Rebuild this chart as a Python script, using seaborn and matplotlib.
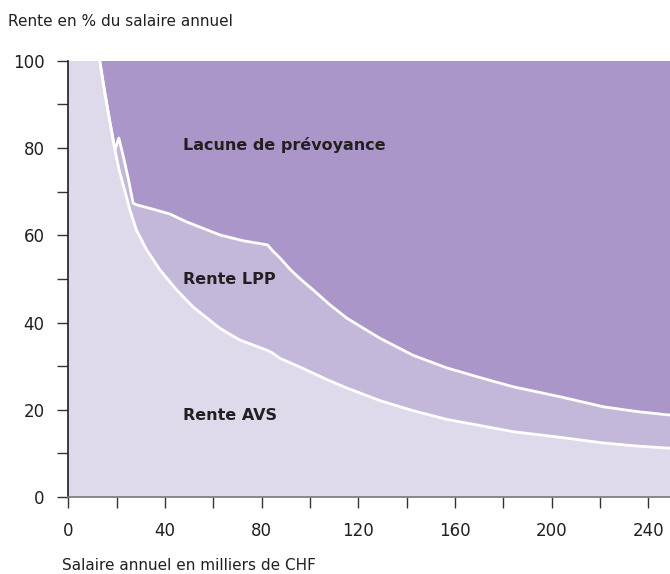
import numpy as np
import pandas as pd
import matplotlib
matplotlib.use("Agg")
import matplotlib.pyplot as plt
import seaborn as sns

# salaire annuel (milliers CHF) et rente AVS en % du salaire
avs_x = [0, 8, 13, 15, 17.2, 19.3, 21, 23.4, 25.5, 28.2, 32.4, 37.9, 44.8, 51.6, 62.7, 71, 82, 84,
         87.6, 95.9, 101.3, 108, 115.3, 129, 142.7, 156.7, 170.4, 184, 203.5, 221.4, 235.4, 249, 255]
avs_y = [400, 160, 100, 93, 86, 79.6, 75, 70.2, 65.8, 61.2, 56.7, 52.1, 47.5, 43.6, 38.7, 36, 33.7, 33.2,
         31.8, 29.8, 28.4, 26.7, 25.0, 22.1, 19.8, 17.8, 16.4, 15.0, 13.7, 12.4, 11.7, 11.2, 11]

# rente totale AVS + LPP
tot_x = [0, 8, 13, 15, 17.2, 19.3, 20.9, 23, 25, 26.8, 28.2, 35, 42, 48.9, 62.7, 72, 82.5, 84.5,
         87.6, 91.8, 96, 101.3, 108, 115.3, 129, 142.7, 156.7, 170.4, 184, 203.5, 221.4, 235.4, 249, 255]
tot_y = [400, 160, 100, 93, 86, 79.6, 82.3, 77.5, 72.5, 67.4, 67, 66, 64.9, 63.1, 60.1, 58.8, 57.8, 56.5,
         54.8, 52.2, 50, 47.5, 44.2, 41, 36.4, 32.5, 29.6, 27.4, 25.3, 23.0, 20.7, 19.6, 18.8, 18.6]

labels = ["Lacune de prévoyance", "Rente LPP", "Rente AVS"]
label_x = [47.5, 47.5, 47.5]
label_y = [80.7, 49.8, 18.6]

c_gap = "#aa96c8"
c_lpp = "#c3b8da"
c_avs = "#dedaec"

sns.set_style("ticks")
plt.rcParams["font.family"] = ["DejaVu Sans"]

fig = plt.figure(figsize=(6.7, 5.74), dpi=100)
ax = fig.add_axes([0.102, 0.134, 0.898, 0.76])
ax.set_facecolor(c_gap)

avs = pd.DataFrame({"x": avs_x, "y": avs_y})
tot = pd.DataFrame({"x": tot_x, "y": tot_y})

ax.fill_between(tot["x"], tot["y"], 0, color=c_lpp, lw=0)
ax.fill_between(avs["x"], avs["y"], 0, color=c_avs, lw=0)
sns.lineplot(data=tot, x="x", y="y", color="white", lw=2, ax=ax, sort=False)
sns.lineplot(data=avs, x="x", y="y", color="white", lw=2, ax=ax, sort=False)

for t, x, y in zip(labels, label_x, label_y):
    ax.text(x, y, t, fontsize=11.5, fontweight="bold", color="#231f20", va="center", ha="left")

ax.set_xlim(0, 249)
ax.set_ylim(0, 100)
ax.set_xticks(np.arange(0, 241, 40))
ax.set_xticks(np.arange(0, 249, 20), minor=True)
ax.set_yticks(np.arange(0, 101, 20))
ax.set_yticks(np.arange(0, 101, 10), minor=True)
ax.tick_params(which="both", length=8, width=1, color="#333333", labelsize=12,
               labelcolor="#231f20")
ax.tick_params(axis="x", pad=10)
ax.tick_params(axis="y", pad=9)
ax.set_xlabel("")
ax.set_ylabel("")
sns.despine(ax=ax)
ax.spines["left"].set_color("#231f20")
ax.spines["bottom"].set_color("#777777")
ax.spines["left"].set_linewidth(1.2)
ax.spines["bottom"].set_linewidth(1.2)

fig.text(0.012, 0.962, "Rente en % du salaire annuel", fontsize=11, color="#231f20", va="center")
fig.text(0.0925, 0.014, "Salaire annuel en milliers de CHF", fontsize=11, color="#231f20", va="center")

fig.savefig("out.png", dpi=100)
